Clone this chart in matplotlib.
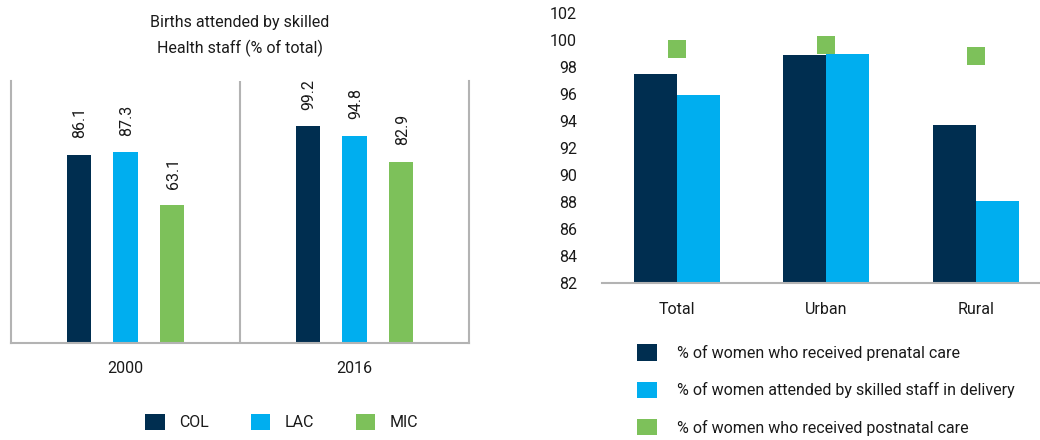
import matplotlib
matplotlib.use("Agg")
import matplotlib.pyplot as plt
from matplotlib.patches import Patch
import numpy as np

plt.rcParams['font.family'] = ['Roboto', 'DejaVu Sans']

# ---- Left chart data ----
years = ["2000", "2016"]
series_left = ["COL", "LAC", "MIC"]
col_vals = [86.1, 99.2]
lac_vals = [87.3, 94.8]
mic_vals = [63.1, 82.9]

# ---- Right chart data ----
areas = ["Total", "Urban", "Rural"]
prenatal = [97.5, 98.9, 93.7]
skilled_delivery = [95.9, 99.0, 88.1]
postnatal = [99.3, 99.6, 98.8]
right_labels = ["% of women who received prenatal care",
                "% of women attended by skilled staff in delivery",
                "% of women who received postnatal care"]
yticks_right = list(range(82, 103, 2))

NAVY = "#002e50"
BLUE = "#00aeef"
GREEN = "#7dc15a"
GRAY = "#b3b3b3"
TXT = "#1a1a1a"
FS = 11.5

fig = plt.figure(figsize=(10.4, 4.4), dpi=100)
W, H = 1040, 440

# ---------------- Left chart ----------------
axL = fig.add_axes([11 / W, (H - 343) / H, 458 / W, 262 / H])
x = np.arange(len(years))
off = 0.205
bw = 0.105
colors = [NAVY, BLUE, GREEN]
for i, (vals, c) in enumerate(zip([col_vals, lac_vals, mic_vals], colors)):
    bars = axL.bar(x + (i - 1) * off, vals, width=bw, color=c)
    for b, v in zip(bars, vals):
        axL.annotate(f"{v:.1f}", (b.get_x() + b.get_width() / 2, v),
                     xytext=(1, 12), textcoords="offset points",
                     rotation=90, ha="center", va="bottom",
                     fontsize=FS, color=TXT)
axL.set_xlim(-0.5, 1.5)
axL.set_ylim(0, 120)
axL.set_yticks([])
axL.set_xticks(x)
axL.set_xticklabels(years, fontsize=FS, color=TXT)
axL.tick_params(axis="x", length=0, pad=13)
for s in ["left", "right", "bottom"]:
    axL.spines[s].set_color(GRAY)
    axL.spines[s].set_linewidth(1.5)
axL.spines["top"].set_visible(False)
axL.axvline(0.5, color=GRAY, lw=1.5)
fig.text(240 / W, 1 - 22 / H, "Births attended by skilled", ha="center", va="center",
         fontsize=FS, color=TXT)
fig.text(240 / W, 1 - 48 / H, "Health staff (% of total)", ha="center", va="center",
         fontsize=FS, color=TXT)
handlesL = [Patch(facecolor=c) for c in colors]
fig.legend(handlesL, series_left, loc="center left",
           bbox_to_anchor=(131 / W, 1 - 422 / H), ncol=3, frameon=False,
           fontsize=FS, handlelength=1.2, handleheight=1.2,
           handletextpad=0.9, columnspacing=2.65, labelcolor=TXT)

# ---------------- Right chart ----------------
axR = fig.add_axes([602 / W, (H - 283) / H, (W - 602) / W, 270 / H])
xr = np.arange(len(areas))
bwr = 0.287
axR.bar(xr - bwr / 2, prenatal, width=bwr, color=NAVY, label=right_labels[0])
axR.bar(xr + bwr / 2, skilled_delivery, width=bwr, color=BLUE, label=right_labels[1])
axR.scatter(xr, postnatal, marker="s", s=150, color=GREEN, label=right_labels[2],
            zorder=3, linewidths=0)
axR.set_ylim(82, 102)
axR.set_xlim(-0.5, 2.43)
axR.set_yticks(yticks_right)
axR.set_yticklabels([str(t) for t in yticks_right], fontsize=FS, color=TXT)
axR.set_xticks(xr)
axR.set_xticklabels(areas, fontsize=FS, color=TXT)
axR.tick_params(axis="both", length=0)
axR.tick_params(axis="x", pad=14)
axR.tick_params(axis="y", pad=18)
for s in ["left", "right", "top"]:
    axR.spines[s].set_visible(False)
axR.spines["bottom"].set_color(GRAY)
axR.spines["bottom"].set_linewidth(1.5)
handlesR = [Patch(facecolor=NAVY), Patch(facecolor=BLUE), Patch(facecolor=GREEN)]
fig.legend(handlesR, right_labels, loc="center left",
           bbox_to_anchor=(623 / W, 1 - 390 / H), ncol=1, frameon=False,
           fontsize=FS, handlelength=1.2, handleheight=1.2,
           handletextpad=1.3, labelspacing=1.3, labelcolor=TXT)

fig.savefig("out.png", dpi=100)
